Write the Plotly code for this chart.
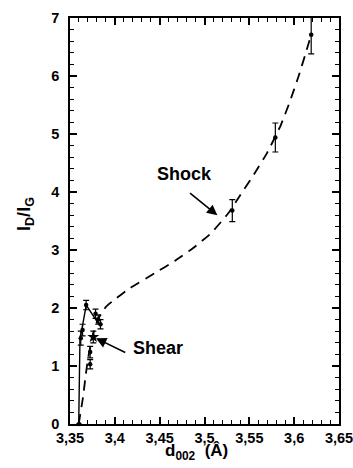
import plotly.graph_objects as go

# ---- data ----
pts_x = [3.3600, 3.3620, 3.3640, 3.3680, 3.3725, 3.3725, 3.3785, 3.3815, 3.3840, 3.5310, 3.5790, 3.6190]
pts_y = [0.00, 1.48, 1.62, 2.05, 1.24, 1.03, 1.90, 1.80, 1.72, 3.68, 4.94, 6.71]
pts_err = [0.00, 0.12, 0.10, 0.08, 0.10, 0.08, 0.08, 0.08, 0.08, 0.19, 0.25, 0.33]

shear_x = [3.3760]
shear_y = [1.50]
shear_err = [0.10]

solid_x = [3.3597, 3.3611, 3.3681, 3.3822]
solid_y = [0.00, 1.45, 2.05, 1.72]

dash_x = [3.3597, 3.3644, 3.3672, 3.3700, 3.3750, 3.3810, 3.3900, 3.4000, 3.4167,
          3.4444, 3.4667, 3.4870, 3.5074, 3.5278, 3.5400, 3.5550, 3.5700, 3.5850,
          3.5950, 3.6050, 3.6120, 3.6190]
dash_y = [0.00, 0.45, 0.80, 1.12, 1.50, 1.80, 2.02, 2.15, 2.34,
          2.60, 2.81, 3.03, 3.29, 3.66, 3.95, 4.30, 4.68, 5.15,
          5.55, 6.00, 6.35, 6.71]

x_ticks = [3.35, 3.40, 3.45, 3.50, 3.55, 3.60, 3.65]
x_tick_labels = ["3,35", "3,4", "3,45", "3,5", "3,55", "3,6", "3,65"]
y_ticks = [0, 1, 2, 3, 4, 5, 6, 7]

FONT = "Liberation Sans, Arial, sans-serif"
W, H, L, R, T, B = 353, 468, 70, 14, 18, 44
pw, ph = W - L - R, H - T - B

fig = go.Figure()

fig.add_trace(go.Scatter(x=dash_x, y=dash_y, mode="lines",
                         line=dict(color="black", width=1.8, dash="10px,7px", shape="spline", smoothing=0.4),
                         hoverinfo="skip", showlegend=False))
fig.add_trace(go.Scatter(x=solid_x, y=solid_y, mode="lines",
                         line=dict(color="black", width=1.4),
                         hoverinfo="skip", showlegend=False))
fig.add_trace(go.Scatter(x=pts_x, y=pts_y, mode="markers",
                         marker=dict(color="black", size=4.5, symbol="circle"),
                         error_y=dict(type="data", array=pts_err, color="black", thickness=1.2, width=3),
                         showlegend=False, cliponaxis=False))
fig.add_trace(go.Scatter(x=shear_x, y=shear_y, mode="markers",
                         marker=dict(color="black", size=9, symbol="star"),
                         error_y=dict(type="data", array=shear_err, color="black", thickness=1.2, width=3),
                         showlegend=False))

tickfont = dict(family=FONT, size=14.5, color="black", weight=700)

fig.update_layout(
    xaxis=dict(range=[3.35, 3.65], tickmode="array", tickvals=x_ticks, ticktext=x_tick_labels,
               showline=True, linecolor="black", linewidth=1.6, mirror="allticks",
               ticks="inside", tickcolor="black", tickwidth=1.5, ticklen=7,
               minor=dict(ticks="inside", dtick=0.01, ticklen=4, tickcolor="black", tickwidth=1.2),
               showgrid=False, zeroline=False, tickfont=tickfont, ticklabeloverflow="allow",
               automargin=False),
    yaxis=dict(range=[0, 7], tickmode="array", tickvals=y_ticks,
               showline=True, linecolor="black", linewidth=1.6, mirror="allticks",
               ticks="inside", tickcolor="black", tickwidth=1.5, ticklen=7,
               minor=dict(ticks="inside", dtick=0.2, ticklen=4, tickcolor="black", tickwidth=1.2),
               showgrid=False, zeroline=False, tickfont=tickfont, ticklabelstandoff=6,
               ticklabeloverflow="allow", automargin=False),
)

ann_font = dict(family=FONT, size=18, color="black", weight=700)
fig.update_layout(
    width=W, height=H,
    margin=dict(l=L, r=R, t=T, b=B, autoexpand=False),
    paper_bgcolor="white", plot_bgcolor="white",
    separators=",.",
    annotations=[
        dict(x=3.5144, y=3.60, ax=3.4822, ay=4.00, axref="x", ayref="y", xref="x", yref="y",
             text="", showarrow=True, arrowhead=2, arrowsize=1.3, arrowwidth=1.6, arrowcolor="black"),
        dict(x=3.4778, y=4.31, xref="x", yref="y", text="Shock", showarrow=False, font=ann_font),
        dict(x=3.3790, y=1.48, ax=3.4133, ay=1.22, axref="x", ayref="y", xref="x", yref="y",
             text="", showarrow=True, arrowhead=2, arrowsize=1.3, arrowwidth=1.6, arrowcolor="black"),
        dict(x=3.4478, y=1.31, xref="x", yref="y", text="Shear", showarrow=False, font=ann_font),
        dict(x=(25 - L) / pw, y=1 - (214 - T) / ph, xref="paper", yref="paper",
             xanchor="center", yanchor="middle",
             text="I<sub>D</sub>/I<sub>G</sub>", showarrow=False, textangle=-90, font=ann_font),
        dict(x=(196 - L) / pw, y=1 - (452 - T) / ph, xref="paper", yref="paper",
             xanchor="center", yanchor="middle",
             text="d<sub>002</sub>  (Â)", showarrow=False,
             font=dict(family=FONT, size=17, color="black", weight=700)),
    ],
)

fig.write_html("out.html")
